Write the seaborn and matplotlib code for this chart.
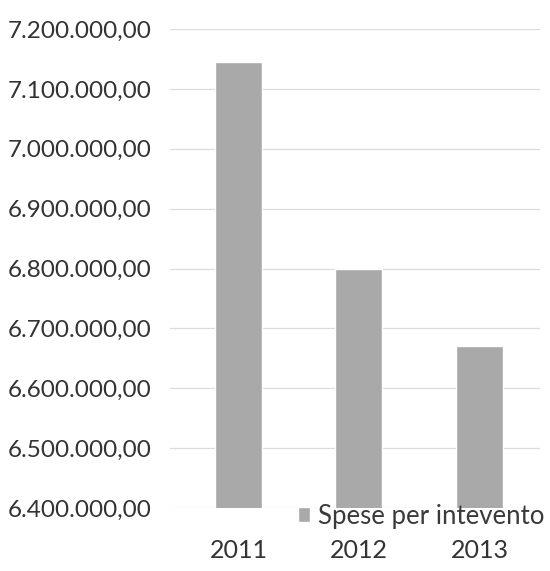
import matplotlib
matplotlib.use("Agg")
import matplotlib.pyplot as plt
import matplotlib.ticker as mticker
import seaborn as sns
import pandas as pd

# Annual expenditure per intervention
years = ["2011", "2012", "2013"]
spese = [7145000, 6800000, 6670000]
series_label = "Spese per intevento"
y_ticks = [6400000, 6500000, 6600000, 6700000, 6800000, 6900000, 7000000, 7100000, 7200000]

df = pd.DataFrame({"anno": years, "spese": spese})

sns.set_theme(style="white")
plt.rcParams["font.family"] = ["Lato", "DejaVu Sans"]

fig = plt.figure(figsize=(5.5, 5.71), dpi=100)
ax = fig.add_axes([170 / 550, 1 - 508 / 571, 370 / 550, (508 - 29) / 571])

sns.barplot(data=df, x="anno", y="spese", color="#a9a9a9", width=0.39,
            saturation=1, label=series_label, ax=ax, zorder=2)

ax.set_ylim(y_ticks[0], y_ticks[-1])
ax.set_xlim(-0.568, 2.503)
ax.set_yticks(y_ticks)


def it_fmt(v, _pos):
    s = f"{v:,.2f}"
    return s.replace(",", "X").replace(".", ",").replace("X", ".")


ax.yaxis.set_major_formatter(mticker.FuncFormatter(it_fmt))
ax.grid(axis="y", color="#dcdcdc", linewidth=0.9, zorder=0)
ax.set_axisbelow(True)
for sp in ax.spines.values():
    sp.set_visible(False)
ax.set_xlabel("")
ax.set_ylabel("")
ax.tick_params(axis="y", length=0, pad=13, labelsize=17.5, labelcolor="#333333")
ax.tick_params(axis="x", length=0, pad=22, labelsize=18, labelcolor="#333333")

leg = ax.legend(loc="upper right", bbox_to_anchor=(1.04, 0.03), frameon=False,
                fontsize=18.5, handlelength=0.5, handleheight=0.5,
                handletextpad=0.3, borderaxespad=0)
for t in leg.get_texts():
    t.set_color("#3a3a3a")

fig.savefig("out.png", dpi=100, facecolor="white")
